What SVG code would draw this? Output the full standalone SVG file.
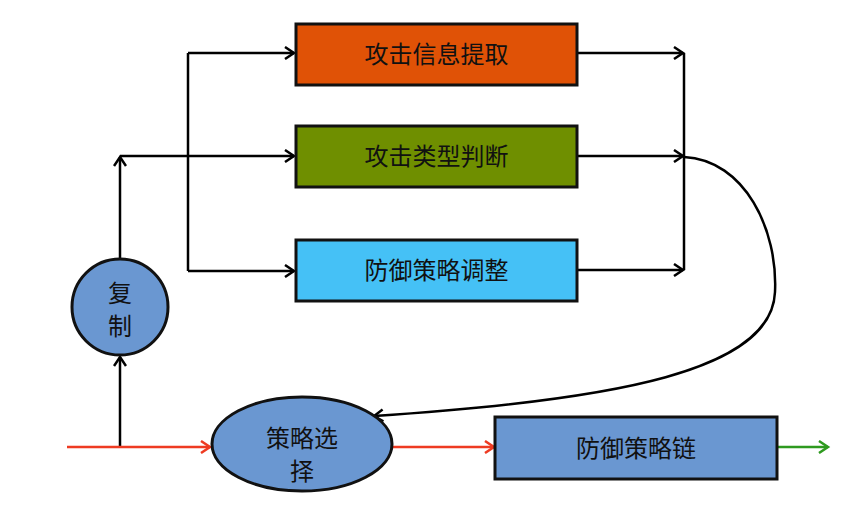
<svg xmlns="http://www.w3.org/2000/svg" width="865" height="522" viewBox="0 0 865 522">
<defs>
<style>
.box{stroke:#111;stroke-width:3}
.t{font-family:"Noto Sans CJK SC","Noto Sans",sans-serif;font-size:24px;fill:#111;text-anchor:middle;dominant-baseline:central}
.ln{fill:none;stroke:#000;stroke-width:2.5}
.red{fill:none;stroke:#EE3B22;stroke-width:2.5}
.grn{fill:none;stroke:#2E9A1F;stroke-width:2.5}
</style>
<marker id="a" markerWidth="14" markerHeight="14" refX="11" refY="7" orient="auto" markerUnits="userSpaceOnUse"><path d="M2,1 L11,7 L2,13" fill="none" stroke="#000" stroke-width="2.5"/></marker>
<marker id="ar" markerWidth="14" markerHeight="14" refX="11" refY="7" orient="auto" markerUnits="userSpaceOnUse"><path d="M2,1 L11,7 L2,13" fill="none" stroke="#EE3B22" stroke-width="2.5"/></marker>
<marker id="ag" markerWidth="14" markerHeight="14" refX="11" refY="7" orient="auto" markerUnits="userSpaceOnUse"><path d="M2,1 L11,7 L2,13" fill="none" stroke="#2E9A1F" stroke-width="2.5"/></marker>
</defs>
<rect width="865" height="522" fill="#fff"/>
<g id="connectors">
<path class="ln" d="M188,53 L188,271"/>
<path class="ln" d="M188,53 L294,53" marker-end="url(#a)"/>
<path class="ln" d="M188,271 L294,271" marker-end="url(#a)"/>
<path class="ln" d="M120,258 L120,157" marker-end="url(#a)"/>
<path class="ln" d="M120,156 L294,156" marker-end="url(#a)"/>
<path class="ln" d="M577,53 L683,53" marker-end="url(#a)"/>
<path class="ln" d="M577,156 L683,156" marker-end="url(#a)"/>
<path class="ln" d="M577,270 L683,270" marker-end="url(#a)"/>
<path class="ln" d="M684,53 L684,270"/>
<path class="ln" d="M684,157 C745,160 778,230 775,292 C772,370 620,400 374,416" marker-end="url(#a)"/>
<path class="ln" d="M120,447 L120,357" marker-end="url(#a)"/>
<path class="red" d="M67,447 L210,447" marker-end="url(#ar)"/>
<path class="red" d="M393,447 L494,447" marker-end="url(#ar)"/>
<path class="grn" d="M777,447 L828,447" marker-end="url(#ag)"/>
</g>
<g id="n1"><rect class="box" x="296" y="24" width="281" height="61" fill="#E05206"/><text class="t" x="436.5" y="52">攻击信息提取</text></g>
<g id="n2"><rect class="box" x="296" y="126" width="281" height="61" fill="#6F8F00"/><text class="t" x="436.5" y="154">攻击类型判断</text></g>
<g id="n3"><rect class="box" x="296" y="240" width="281" height="61" fill="#45C1F6"/><text class="t" x="436.5" y="268">防御策略调整</text></g>
<g id="n4"><circle class="box" cx="120" cy="307" r="48" fill="#6A97D1"/><text class="t" x="120" y="291">复</text><text class="t" x="120" y="324">制</text></g>
<g id="n5"><ellipse class="box" cx="302" cy="444" rx="90" ry="47" fill="#6A97D1"/><text class="t" x="302" y="436">策略选</text><text class="t" x="302" y="469">择</text></g>
<g id="n6"><rect class="box" x="495" y="417" width="282" height="62" fill="#6A97D1"/><text class="t" x="636" y="446">防御策略链</text></g>
</svg>
